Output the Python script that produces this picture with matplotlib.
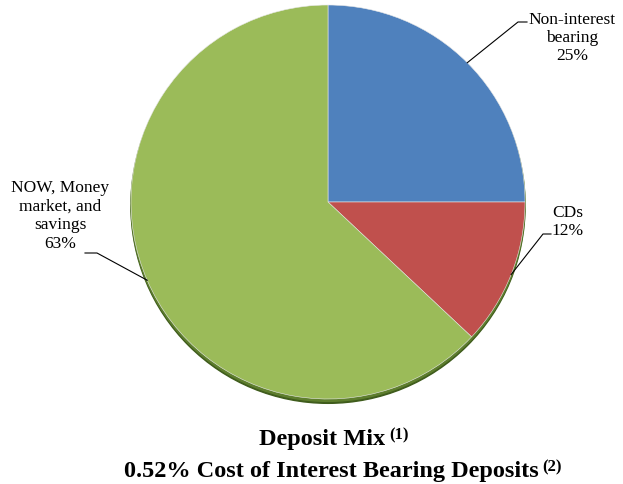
import matplotlib
matplotlib.use('agg')
import matplotlib.pyplot as plt
import numpy as np

# deposit mix data
labels = ['Non-interest\nbearing', 'CDs', 'NOW, Money\nmarket, and\nsavings']
shares = [25, 12, 63]
colors = ['#4F81BD', '#C0504D', '#9BBB59']

# label layout (pixel positions in the 623x485 picture)
label_pos = [(572, 38), (568, 222), (60, 216)]
elbow_pos = [(518, 23), (543, 235), (97, 254)]
tail_pos = [(527, 23), (551, 235), (85, 254)]

title1 = 'Deposit Mix'
title2 = '0.52% Cost of Interest Bearing Deposits'

W, H = 623, 485
CX, CY, R = 328, 203, 197
serif = 'Liberation Serif'

fig = plt.figure(figsize=(W / 100, H / 100), dpi=100)
ax = fig.add_axes([(CX - R) / W, (H - CY - R) / H, 2 * R / W, 2 * R / H])


def px(x, y):
    return (x - CX) / R, (CY - y) / R


# shadow under the pie
ax.add_patch(plt.Circle((0, -0.022), 1.0, color='#3F5C1C', zorder=0, clip_on=False))
ax.add_patch(plt.Circle((0, -0.012), 1.0, color='#5E7E2E', zorder=0.5, clip_on=False))

wedges, _ = ax.pie(shares, colors=colors, startangle=90, counterclock=False,
                   wedgeprops=dict(edgecolor='#E8E8E8', linewidth=0.4))
ax.set_xlim(-1, 1)
ax.set_ylim(-1, 1)

for w, lab, s, lp, ep, tp in zip(wedges, labels, shares, label_pos, elbow_pos, tail_pos):
    ang = np.deg2rad((w.theta1 + w.theta2) / 2)
    x0, y0 = np.cos(ang), np.sin(ang)
    ex, ey = px(*ep)
    tx, ty = px(*tp)
    ax.plot([x0, ex, tx], [y0, ey, ty], color='black', lw=0.8, clip_on=False)
    lx, ly = px(*lp)
    ax.text(lx, ly, lab + '\n' + str(s) + '%', ha='center', va='center',
            fontsize=12.5, family=serif, linespacing=1.2)

t1 = fig.text(322 / W, 1 - 445 / H, title1, ha='center', va='baseline',
              fontsize=17.5, weight='bold', family=serif)
t2 = fig.text(331 / W, 1 - 477 / H, title2, ha='center', va='baseline',
              fontsize=17.5, weight='bold', family=serif)
for t, sup in [(t1, '(1)'), (t2, '(2)')]:
    ax.annotate(sup, xy=(1, 1), xycoords=t, xytext=(3, 1.5), textcoords='offset points',
                ha='left', va='top', fontsize=12, weight='bold', family=serif,
                annotation_clip=False)

plt.savefig('out.png', dpi=100)
